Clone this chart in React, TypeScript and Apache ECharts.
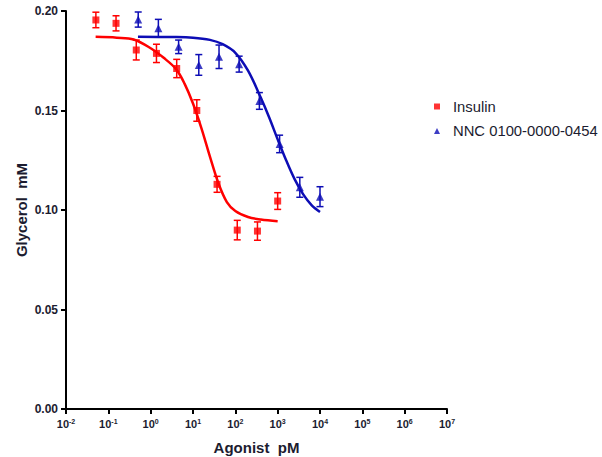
import React, { useEffect, useRef } from 'react';
import * as echarts from 'echarts';

// ---- data ----
const xMinDose = 0.01;
const xMaxDose = 1e7;
const yTickValues = [0, 0.05, 0.1, 0.15, 0.2];

const insulinName = 'Insulin';
const insulinDose = [0.0508, 0.152, 0.457, 1.37, 4.12, 12.3, 37.0, 111, 333, 1000];
const insulinMean = [0.1955, 0.1938, 0.1804, 0.1787, 0.1711, 0.1500, 0.1129, 0.0899, 0.0894, 0.1045];
const insulinSem = [0.0039, 0.0038, 0.0050, 0.0046, 0.0046, 0.0054, 0.0040, 0.0049, 0.0046, 0.0042];
const insulinFitLogDose = [-1.3, -0.8, -0.4, 0.0, 0.3, 0.6, 0.8, 1.0, 1.2, 1.4, 1.6, 1.8, 2.0, 2.3, 2.6, 3.0];
const insulinFitValue = [0.1870, 0.1866, 0.1857, 0.1813, 0.1766, 0.1708, 0.1635, 0.1535, 0.1410, 0.1268, 0.1135, 0.1040, 0.0995, 0.0965, 0.0952, 0.0944];

const nncName = 'NNC 0100-0000-0454';
const nncDose = [0.508, 1.52, 4.57, 13.7, 41.2, 123, 370, 1111, 3333, 10000];
const nncMean = [0.1957, 0.1913, 0.1820, 0.1729, 0.1770, 0.1733, 0.1548, 0.1332, 0.1114, 0.1067];
const nncSem = [0.0038, 0.0045, 0.0034, 0.0052, 0.0059, 0.0040, 0.0042, 0.0044, 0.0050, 0.0050];
const nncFitLogDose = [-0.3, 0.5, 1.0, 1.4, 1.7, 2.0, 2.3, 2.6, 2.8, 3.0, 3.2, 3.4, 3.6, 3.8, 4.0];
const nncFitValue = [0.1870, 0.1869, 0.1866, 0.1855, 0.1833, 0.1790, 0.1700, 0.1565, 0.1465, 0.1355, 0.1250, 0.1155, 0.1080, 0.1025, 0.0990];

const RED = '#ff0000';
const BLUE = '#0d0db5';
const TEXT = '#1c1c30';
const FONT = '"Liberation Sans", Arial, sans-serif';

function errorRender(color: string) {
  return (params: any, api: any) => {
    const x = api.value(0);
    const lo = api.value(1);
    const hi = api.value(2);
    const top = api.coord([x, hi]);
    const bot = api.coord([x, lo]);
    const w = 3.5;
    const style = { stroke: color, lineWidth: 1.5, fill: 'none' };
    return {
      type: 'group',
      children: [
        { type: 'line', shape: { x1: top[0], y1: top[1], x2: bot[0], y2: bot[1] }, style },
        { type: 'line', shape: { x1: top[0] - w, y1: top[1], x2: top[0] + w, y2: top[1] }, style },
        { type: 'line', shape: { x1: bot[0] - w, y1: bot[1], x2: bot[0] + w, y2: bot[1] }, style },
      ],
    };
  };
}

export default function App() {
  const ref = useRef<HTMLDivElement>(null);

  useEffect(() => {
    if (!ref.current) return;
    const chart = echarts.init(ref.current, null, { renderer: 'svg' });

    const option: any = {
      animation: false,
      backgroundColor: '#ffffff',
      textStyle: { fontFamily: FONT },
      grid: {
        left: 66,
        top: 11,
        width: 381,
        height: 398,
        containLabel: false,
        outerBoundsMode: 'none',
      },
      legend: {
        orient: 'vertical',
        left: 429,
        top: 94,
        itemWidth: 6,
        itemHeight: 6,
        itemGap: 9.5,
        formatter: (name: string) => `{g| }{t|${name}}`,
        textStyle: {
          fontSize: 14.8,
          color: TEXT,
          fontFamily: FONT,
          rich: {
            g: { width: 8, fontSize: 14.8 },
            t: { fontSize: 14.8, color: TEXT, fontFamily: FONT },
          },
        },
        data: [insulinName, nncName],
      },
      xAxis: {
        type: 'log',
        logBase: 10,
        min: xMinDose,
        max: xMaxDose,
        splitNumber: 9,
        name: 'Agonist  pM',
        nameLocation: 'middle',
        nameGap: 30,
        nameMoveOverlap: false,
        nameTextStyle: { fontSize: 15, fontWeight: 'bold', color: TEXT, fontFamily: FONT, lineHeight: 16 },
        axisLine: { show: true, lineStyle: { color: '#000', width: 2 } },
        axisTick: { show: true, inside: false, length: 5, lineStyle: { color: '#000', width: 2 } },
        minorTick: { show: false },
        splitLine: { show: false },
        axisLabel: {
          margin: 9,
          formatter: (v: number) => {
            const e = Math.round(Math.log10(v));
            return `{b|10}{s|${e}}`;
          },
          rich: {
            b: { fontSize: 11, fontWeight: 'bold', color: TEXT, lineHeight: 12, fontFamily: FONT },
            s: { fontSize: 7, fontWeight: 'bold', color: TEXT, lineHeight: 8, verticalAlign: 'top', fontFamily: FONT },
          },
        },
      },
      yAxis: {
        type: 'value',
        min: yTickValues[0],
        max: yTickValues[yTickValues.length - 1],
        interval: 0.05,
        name: 'Glycerol  mM',
        nameLocation: 'middle',
        nameGap: 37,
        nameMoveOverlap: false,
        nameTextStyle: { fontSize: 15, fontWeight: 'bold', color: TEXT, fontFamily: FONT },
        axisLine: { show: true, lineStyle: { color: '#000', width: 2 } },
        axisTick: { show: true, inside: false, length: 5, lineStyle: { color: '#000', width: 2 } },
        splitLine: { show: false },
        axisLabel: {
          margin: 8,
          fontSize: 12,
          fontWeight: 'bold',
          color: TEXT,
          fontFamily: FONT,
          formatter: (v: number) => v.toFixed(2),
        },
      },
      series: [
        {
          name: insulinName + ' fit',
          type: 'line',
          data: insulinFitLogDose.map((l, i) => [Math.pow(10, l), insulinFitValue[i]]),
          showSymbol: false,
          smooth: 0.35,
          lineStyle: { color: RED, width: 2.5 },
          itemStyle: { color: RED },
          z: 2,
        },
        {
          name: nncName + ' fit',
          type: 'line',
          data: nncFitLogDose.map((l, i) => [Math.pow(10, l), nncFitValue[i]]),
          showSymbol: false,
          smooth: 0.35,
          lineStyle: { color: BLUE, width: 2.5 },
          itemStyle: { color: BLUE },
          z: 2,
        },
        {
          name: insulinName + ' sem',
          type: 'custom',
          renderItem: errorRender(RED),
          encode: { x: 0, y: [1, 2] },
          data: insulinDose.map((d, i) => [d, insulinMean[i] - insulinSem[i], insulinMean[i] + insulinSem[i]]),
          z: 3,
        },
        {
          name: nncName + ' sem',
          type: 'custom',
          renderItem: errorRender(BLUE),
          encode: { x: 0, y: [1, 2] },
          data: nncDose.map((d, i) => [d, nncMean[i] - nncSem[i], nncMean[i] + nncSem[i]]),
          z: 3,
        },
        {
          name: insulinName,
          type: 'scatter',
          symbol: 'rect',
          symbolSize: 7,
          itemStyle: { color: RED },
          data: insulinDose.map((d, i) => [d, insulinMean[i]]),
          z: 4,
        },
        {
          name: nncName,
          type: 'scatter',
          symbol: 'triangle',
          symbolSize: 8,
          itemStyle: { color: BLUE },
          data: nncDose.map((d, i) => [d, nncMean[i]]),
          z: 4,
        },
      ],
    };

    chart.setOption(option);
    return () => chart.dispose();
  }, []);

  return (
    <div
      ref={ref}
      style={{ position: 'absolute', left: 0, top: 0, width: 602, height: 457, background: '#fff' }}
    />
  );
}
